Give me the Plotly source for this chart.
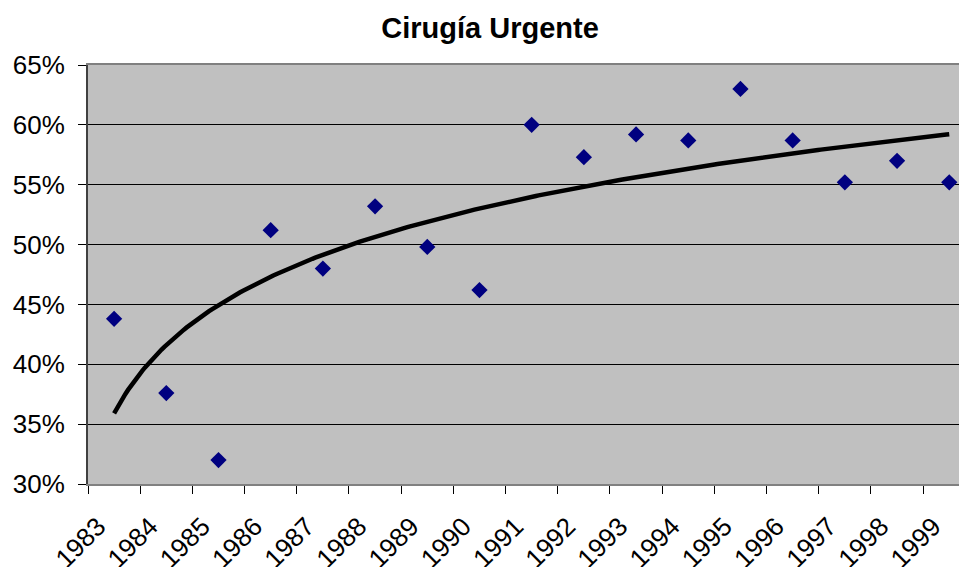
import numpy as np
import plotly.graph_objects as go

years = ["1983", "1984", "1985", "1986", "1987", "1988", "1989", "1990", "1991",
         "1992", "1993", "1994", "1995", "1996", "1997", "1998", "1999"]
urgente = [0.438, 0.376, 0.320, 0.512, 0.480, 0.532, 0.498, 0.462, 0.600,
           0.573, 0.592, 0.587, 0.630, 0.587, 0.552, 0.570, 0.552]
title_text = "Cirugía Urgente"

# logarithmic trend line (as Excel), fitted on the data
idx = np.arange(1, len(years) + 1)
a, b = np.polyfit(np.log(idx), np.array(urgente), 1)
xs = np.linspace(1, len(years), 300)
ys = a * np.log(xs) + b

FONT = "Liberation Sans, Arial, sans-serif"
xr = [-0.5, 16.34]
W, H = 959, 559  # page body has an 8px margin

fig = go.Figure()
fig.add_trace(go.Scatter(
    x=years, y=urgente, mode="markers",
    marker=dict(symbol="diamond", size=12.5, color="#000080", line=dict(width=0)),
    showlegend=False, hoverinfo="x+y"))
fig.add_trace(go.Scatter(
    x=xs - 1, y=ys, mode="lines", xaxis="x2",
    line=dict(color="black", width=4.5), showlegend=False, hoverinfo="skip"))

fig.update_layout(
    width=W, height=H,
    margin=dict(l=80, r=0, t=57, b=83, autoexpand=False),
    paper_bgcolor="white", plot_bgcolor="#C0C0C0",
    font=dict(family=FONT, color="black", size=26),
    title=dict(text="<b>" + title_text + "</b>", x=482 / W, xref="container",
               xanchor="center", y=1 - 20 / H, yref="container", yanchor="middle",
               font=dict(size=29, family=FONT, color="black")),
    xaxis=dict(type="category", range=xr, tickson="boundaries", automargin=False,
               ticks="outside", ticklen=8, tickcolor="black", tickwidth=1,
               tickangle=-45, showgrid=False, zeroline=False,
               showline=True, linecolor="#808080", linewidth=2, mirror=True,
               ticklabelshift=-16, ticklabelstandoff=15,
               tickfont=dict(size=26)),
    xaxis2=dict(overlaying="x", range=xr, visible=False),
    yaxis=dict(range=[0.30, 0.65], dtick=0.05, tickformat=".0%", automargin=False,
               ticks="outside", ticklen=8, tickcolor="black", tickwidth=1,
               showgrid=True, gridcolor="black", gridwidth=1, zeroline=False,
               showline=True, linecolor="#404040", linewidth=2,
               ticklabelstandoff=8,
               tickfont=dict(size=26)),
)

fig.write_html("out.html")
